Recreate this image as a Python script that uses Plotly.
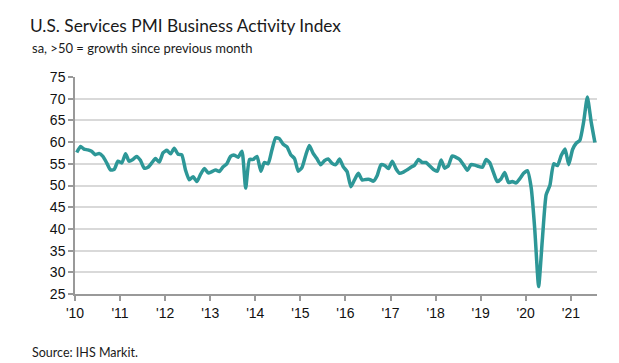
import plotly.graph_objects as go

# Monthly values, Jan 2010 .. Jul 2021
v2010 = [57.6, 59.0, 58.4, 58.2, 57.9, 57.1, 57.4, 56.7, 55.2, 53.6, 53.7, 55.6]
v2011 = [55.2, 57.3, 55.6, 56.0, 56.7, 55.8, 54.0, 54.2, 55.2, 56.2, 55.4, 57.5]
v2012 = [58.1, 57.3, 58.6, 57.2, 57.1, 53.5, 51.3, 52.0, 50.9, 52.6, 53.9, 52.9]
v2013 = [53.2, 53.6, 53.2, 54.3, 55.0, 56.7, 57.0, 56.5, 57.9, 49.4, 56.0, 56.0]
v2014 = [56.7, 53.3, 55.3, 55.0, 58.1, 61.0, 60.8, 59.5, 58.9, 57.1, 56.2, 53.3]
v2015 = [54.2, 57.1, 59.2, 57.4, 56.2, 54.8, 55.7, 56.1, 55.1, 54.8, 56.1, 54.3]
v2016 = [53.2, 49.7, 51.3, 52.8, 51.3, 51.4, 51.4, 51.0, 52.3, 54.8, 54.6, 53.9]
v2017 = [55.6, 53.8, 52.8, 53.1, 53.6, 54.2, 54.7, 56.0, 55.3, 55.3, 54.5, 53.7]
v2018 = [53.3, 55.9, 54.0, 54.6, 56.8, 56.5, 56.0, 54.8, 53.5, 54.8, 54.7, 54.4]
v2019 = [54.2, 56.0, 55.3, 53.0, 50.9, 51.5, 53.0, 50.7, 50.9, 50.6, 51.6, 52.8]
v2020 = [53.4, 49.4, 39.8, 26.7, 37.5, 47.9, 50.0, 55.0, 54.6, 56.9, 58.4, 54.8]
v2021 = [58.3, 59.8, 60.4, 64.7, 70.4, 64.6, 59.9]

years = list(range(2010, 2022))
yearly = [v2010, v2011, v2012, v2013, v2014, v2015, v2016, v2017, v2018, v2019, v2020, v2021]

dates = []
values = []
for yr, vals in zip(years, yearly):
    for i, v in enumerate(vals):
        dates.append(f"{yr}-{i+1:02d}-15")
        values.append(v)

tick_vals = [f"{y}-01-01" for y in years]
tick_text = ["'10", "'11", "'12", "'13", "'14", "'15", "'16", "'17", "'18", "'19", "'20", "'21"]

fig = go.Figure()
fig.add_trace(go.Scatter(
    x=dates, y=values, mode="lines",
    line=dict(color="#2d9797", width=3.5, shape="spline", smoothing=0.5),
    hoverinfo="skip",
))

W, H = 619, 363
L, R, T, B = 75, 22, 77, 69
pw = W - L - R
ph = H - T - B

def px(x):
    return (x - L) / pw

def py(y):
    return (H - B - y) / ph

tickfont = dict(family="Liberation Sans, Arial, sans-serif", size=14, color="#111111")
textfont = "Lato, sans-serif"

fig.update_layout(
    width=W, height=H,
    margin=dict(l=L, r=R, t=T, b=B),
    paper_bgcolor="white", plot_bgcolor="white",
    showlegend=False,
    title=dict(
        text="U.S. Services PMI Business Activity Index",
        x=30 / W, xanchor="left", xref="container",
        y=1 - 26 / H, yanchor="middle", yref="container",
        font=dict(family=textfont, size=17.3, color="#1a1a1a"),
    ),
    annotations=[
        dict(text="sa, >50 = growth since previous month", xref="paper", yref="paper",
             x=px(30), y=py(48), xanchor="left", yanchor="middle", showarrow=False,
             font=dict(family=textfont, size=13, color="#1a1a1a")),
        dict(text="Source: IHS Markit.", xref="paper", yref="paper",
             x=px(30), y=py(352), xanchor="left", yanchor="middle", showarrow=False,
             font=dict(family=textfont, size=12.5, color="#1a1a1a")),
    ],
    xaxis=dict(
        type="date",
        range=["2010-01-01", "2021-08-01"],
        tickvals=tick_vals, ticktext=tick_text,
        ticks="outside", ticklen=5, tickwidth=1.5, tickcolor="#999999",
        showline=True, linecolor="#999999", linewidth=1.5,
        showgrid=False, zeroline=False,
        tickfont=tickfont,
    ),
    yaxis=dict(
        range=[25, 75], dtick=5, tick0=25,
        ticks="outside", ticklen=5, tickwidth=1.5, tickcolor="#999999",
        showline=True, linecolor="#999999", linewidth=1.5,
        showgrid=True, gridcolor="#d9d9d9", gridwidth=1.5,
        zeroline=False,
        tickfont=tickfont,
    ),
)

fig.write_html(
    "out.html",
    config={"displayModeBar": False},
    post_script="document.body.style.margin='0';document.body.style.padding='0';",
)
